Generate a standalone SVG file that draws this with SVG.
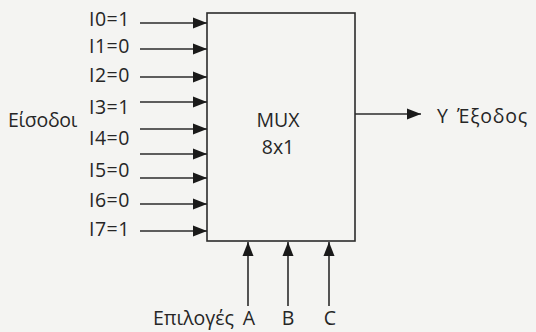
<svg xmlns="http://www.w3.org/2000/svg" width="536" height="332" viewBox="0 0 536 332">
<style>
text { font-family: "Open Sans", "Liberation Sans", sans-serif; font-size: 19.5px; fill: #262626; }
.lbl { letter-spacing: 0.5px; }
.mid { text-anchor: middle; }
.wire { stroke: #2b2b2b; stroke-width: 1.6; fill: none; }
.box { stroke: #2b2b2b; stroke-width: 1.6; fill: none; }
</style>
<defs>
<marker id="ah" markerUnits="userSpaceOnUse" markerWidth="14" markerHeight="12" refX="14" refY="6" orient="auto">
<polygon points="0,0.5 14,6 0,11.5" fill="#1a1a1a"/>
</marker>
</defs>
<rect width="536" height="332" fill="#f4f4f2"/>
<g id="mux">
<rect class="box" x="207" y="13" width="148" height="228"/>
<text class="mid" x="278" y="127" font-size="20.5">MUX</text>
<text class="mid" x="278" y="154" font-size="19">8x1</text>
</g>
<g id="inputs-label">
<text x="8" y="127" letter-spacing="-0.3">Είσοδοι</text>
</g>
<g id="input-labels">
<text class="lbl" x="89" y="26">I0=1</text>
<text class="lbl" x="89" y="53">I1=0</text>
<text class="lbl" x="89" y="82">I2=0</text>
<text class="lbl" x="89" y="114">I3=1</text>
<text class="lbl" x="89" y="145">I4=0</text>
<text class="lbl" x="89" y="177">I5=0</text>
<text class="lbl" x="89" y="207">I6=0</text>
<text class="lbl" x="89" y="236">I7=1</text>
</g>
<g id="output-label">
<text x="437" y="123">Y</text>
<text x="457" y="123" letter-spacing="0.8">Έξοδος</text>
</g>
<g id="select-labels">
<text x="153" y="325">Επιλογές</text>
<text class="mid" x="249" y="325">A</text>
<text class="mid" x="288" y="325">B</text>
<text class="mid" x="330" y="325">C</text>
</g>
<g id="connectors">
<line class="wire" x1="140" y1="23" x2="207" y2="23" marker-end="url(#ah)"/>
<line class="wire" x1="140" y1="49" x2="207" y2="49" marker-end="url(#ah)"/>
<line class="wire" x1="140" y1="77" x2="207" y2="77" marker-end="url(#ah)"/>
<line class="wire" x1="140" y1="102" x2="207" y2="102" marker-end="url(#ah)"/>
<line class="wire" x1="140" y1="129" x2="207" y2="129" marker-end="url(#ah)"/>
<line class="wire" x1="140" y1="154" x2="207" y2="154" marker-end="url(#ah)"/>
<line class="wire" x1="140" y1="178" x2="207" y2="178" marker-end="url(#ah)"/>
<line class="wire" x1="140" y1="204" x2="207" y2="204" marker-end="url(#ah)"/>
<line class="wire" x1="140" y1="231" x2="207" y2="231" marker-end="url(#ah)"/>
<line class="wire" x1="355" y1="114" x2="421" y2="114" marker-end="url(#ah)"/>
<line class="wire" x1="248" y1="306" x2="248" y2="242" marker-end="url(#ah)"/>
<line class="wire" x1="288" y1="306" x2="288" y2="242" marker-end="url(#ah)"/>
<line class="wire" x1="329" y1="306" x2="329" y2="242" marker-end="url(#ah)"/>
</g>
</svg>
